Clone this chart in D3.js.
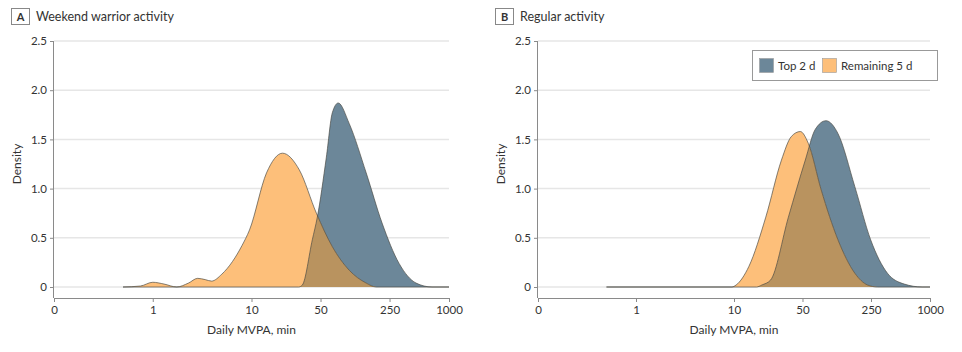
<!DOCTYPE html>
<html>
<head>
<meta charset="utf-8">
<script src="https://cdn.jsdelivr.net/npm/d3@7"></script>
<style>
  body { margin: 0; background: #fff; }
  svg { display: block; font-family: Lato, "Open Sans", sans-serif; }
</style>
</head>
<body>
<svg id="chart" width="962" height="352"></svg>
<script>
const xTicks = [0.1, 1, 10, 50, 250, 1000];
const yTicks = [0, 0.5, 1.0, 1.5, 2.0, 2.5];

const warriorRemainingX = [0.5, 0.75, 1, 1.3, 1.75, 2.3, 2.85, 3.4, 3.94, 5, 6.43, 8, 9.55, 14.2, 20.6, 30.5, 45.4, 65.8, 97.7, 145, 183, 1000];
const warriorRemainingY = [0, 0.01, 0.048, 0.03, 0, 0.04, 0.088, 0.075, 0.06, 0.13, 0.26, 0.42, 0.58, 1.16, 1.36, 1.19, 0.75, 0.41, 0.17, 0.04, 0, 0];
const warriorTopX = [0.5, 30, 32.7, 41.3, 46.4, 57.3, 65.8, 75.6, 97.7, 145, 210, 312, 464, 673, 1000];
const warriorTopY = [0, 0, 0.02, 0.48, 0.71, 1.32, 1.77, 1.87, 1.66, 1.16, 0.65, 0.24, 0.04, 0, 0];

const regularRemainingX = [0.5, 9.5, 10.5, 14.2, 21.1, 30.5, 38.5, 47.5, 57.3, 77.4, 115, 171, 231, 291, 1000];
const regularRemainingY = [0, 0, 0.02, 0.21, 0.71, 1.29, 1.53, 1.58, 1.46, 0.99, 0.48, 0.14, 0.02, 0, 0];
const regularTopX = [0.5, 17, 19.2, 23.6, 35.9, 53.4, 67.3, 86.9, 115, 171, 248, 368, 546, 831, 1000];
const regularTopY = [0, 0, 0.02, 0.07, 0.71, 1.29, 1.6, 1.69, 1.56, 1.02, 0.48, 0.14, 0.03, 0, 0];

const series = ["Top 2 d", "Remaining 5 d"];
const fills = { top: "#6c8799", rem: "#fdbf7a", both: "#b9935f" };

const panels = [
  { letter: "A", title: "Weekend warrior activity", left: 54, right: 449, top: [warriorTopX, warriorTopY], rem: [warriorRemainingX, warriorRemainingY], legend: false },
  { letter: "B", title: "Regular activity", left: 538, right: 930, top: [regularTopX, regularTopY], rem: [regularRemainingX, regularRemainingY], legend: true }
];

const svg = d3.select("#chart");
const textColor = "#333";

panels.forEach((p, i) => {
  const g = svg.append("g");
  const x = d3.scaleLog().domain([0.1, 1000]).range([p.left, p.right]);
  const y = d3.scaleLinear().domain([0, 2.5]).range([287, 41]);
  const axisY = 298;

  // panel heading
  const hx = p.left - 43;
  g.append("rect").attr("x", hx + 0.5).attr("y", 8.5).attr("width", 18).attr("height", 16)
    .attr("fill", "#fff").attr("stroke", "#888").attr("stroke-width", 1);
  g.append("text").attr("x", hx + 9.5).attr("y", 21).attr("text-anchor", "middle")
    .attr("font-size", 11).attr("font-weight", 700).attr("fill", textColor).text(p.letter);
  g.append("text").attr("x", hx + 25).attr("y", 21)
    .attr("font-size", 12.5).attr("fill", textColor).text(p.title);

  // grid
  g.append("g").selectAll("line").data(yTicks).join("line")
    .attr("x1", p.left).attr("x2", p.right)
    .attr("y1", d => y(d)).attr("y2", d => y(d))
    .attr("stroke", "#e6e6e6").attr("stroke-width", 1.5);

  // areas
  const toPts = ([xs, ys]) => xs.map((v, k) => [v, ys[k]]);
  const area = d3.area().x(d => x(d[0])).y0(y(0)).y1(d => y(d[1])).curve(d3.curveMonotoneX);
  const line = d3.line().x(d => x(d[0])).y(d => y(d[1])).curve(d3.curveMonotoneX);
  const topPts = toPts(p.top);
  const remPts = toPts(p.rem);

  const clipId = "clip-top-" + i;
  svg.append("defs").append("clipPath").attr("id", clipId)
    .append("path").attr("d", area(topPts));

  g.append("path").attr("d", area(topPts)).attr("fill", fills.top);
  g.append("path").attr("d", area(remPts)).attr("fill", fills.rem);
  g.append("path").attr("d", area(remPts)).attr("fill", fills.both).attr("clip-path", `url(#${clipId})`);
  [topPts, remPts].forEach(pts => {
    g.append("path").attr("d", line(pts)).attr("fill", "none")
      .attr("stroke", "#4a4a44").attr("stroke-width", 0.8).attr("stroke-opacity", 0.85);
  });

  // y axis
  const yAxis = g.append("g").attr("transform", `translate(${p.left},0)`)
    .call(d3.axisLeft(y).tickValues(yTicks).tickSize(4).tickPadding(3)
      .tickFormat(d => d === 0 ? "0" : d3.format(".1f")(d)));
  yAxis.select(".domain").attr("d", `M-0.5,${y(2.5)}V${axisY}`);

  // x axis
  const xAxis = g.append("g").attr("transform", `translate(0,${axisY})`)
    .call(d3.axisBottom(x).tickValues(xTicks).tickSize(4).tickPadding(4)
      .tickFormat(d => d < 1 ? "0" : String(d)));
  xAxis.select(".domain").attr("d", `M${p.left},0.5H${p.right}`);

  [yAxis, xAxis].forEach(a => {
    a.select(".domain").attr("stroke", "#8a8a8a");
    a.selectAll(".tick line").attr("stroke", "#8a8a8a");
    a.selectAll(".tick text").attr("fill", textColor).attr("font-size", 11.5).attr("font-family", "Lato, sans-serif");
  });

  g.append("text").attr("x", (p.left + p.right) / 2).attr("y", 334).attr("text-anchor", "middle")
    .attr("font-size", 12).attr("fill", textColor).text("Daily MVPA, min");
  g.append("text").attr("transform", `translate(${p.left - 33},${(y(0) + y(2.5)) / 2}) rotate(-90)`)
    .attr("text-anchor", "middle").attr("font-size", 12).attr("fill", textColor).text("Density");

  if (p.legend) {
    const lg = g.append("g").attr("transform", "translate(752,50)");
    lg.append("rect").attr("x", 0.5).attr("y", 0.5).attr("width", 185).attr("height", 30)
      .attr("fill", "#fff").attr("stroke", "#999");
    const items = [{ label: series[0], fill: fills.top, x: 7 }, { label: series[1], fill: fills.rem, x: 70 }];
    items.forEach(it => {
      lg.append("rect").attr("x", it.x + 0.5).attr("y", 8.5).attr("width", 14).attr("height", 14)
        .attr("fill", it.fill).attr("stroke", "#999").attr("stroke-width", 0.6);
      lg.append("text").attr("x", it.x + 19).attr("y", 20).attr("font-size", 11.5)
        .attr("fill", textColor).text(it.label);
    });
  }
});
</script>
</body>
</html>
